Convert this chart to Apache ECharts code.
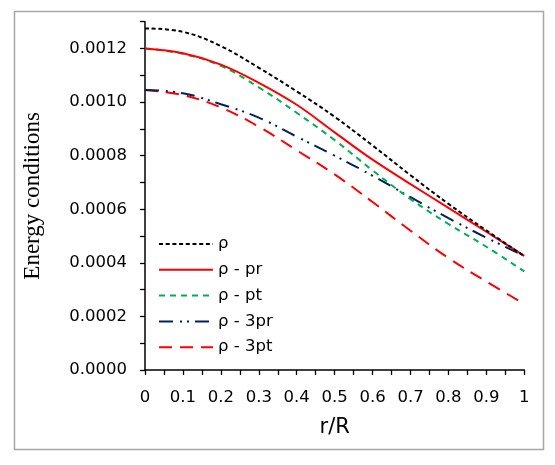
<!DOCTYPE html>
<html>
<head>
<meta charset="utf-8">
<script src="https://cdn.jsdelivr.net/npm/echarts@6/dist/echarts.min.js"></script>
<style>html,body{margin:0;padding:0;background:#fff}#c{width:555px;height:465px}</style>
</head>
<body>
<div id="c"></div>
<script>
// r/R positions
const rR = [0, 0.1, 0.2, 0.3, 0.4, 0.5, 0.6, 0.7, 0.8, 0.9, 1];
// series values
const rho      = [0.001275, 0.001262, 0.001209, 0.001128, 0.001040, 0.000945, 0.000838, 0.000727, 0.000620, 0.000521, 0.000425];
const rhoPr    = [0.001200, 0.001182, 0.001140, 0.001072, 0.000990, 0.000887, 0.000785, 0.000694, 0.000605, 0.000516, 0.000426];
const rhoPt    = [0.001200, 0.001180, 0.001135, 0.001055, 0.000960, 0.000858, 0.000745, 0.000638, 0.000545, 0.000460, 0.000368];
const rho3Pr   = [0.001045, 0.001033, 0.000992, 0.000942, 0.000871, 0.000800, 0.000725, 0.000645, 0.000567, 0.000494, 0.000426];
const rho3Pt   = [0.001045, 0.001026, 0.000980, 0.000908, 0.000820, 0.000730, 0.000627, 0.000520, 0.000418, 0.000330, 0.000247];
const seriesNames = ['ρ', 'ρ - pr', 'ρ - pt', 'ρ - 3pr', 'ρ - 3pt'];
const xTicks = ['0', '0.1', '0.2', '0.3', '0.4', '0.5', '0.6', '0.7', '0.8', '0.9', '1'];
const yTicks = ['0.0000', '0.0002', '0.0004', '0.0006', '0.0008', '0.0010', '0.0012'];

const pairs = arr => rR.map((x, i) => [x, arr[i]]);
const styles = [
  {color: '#000000', type: [4, 2.7]},
  {color: '#ff0000', type: 'solid'},
  {color: '#00b050', type: [6, 5]},
  {color: '#002060', type: [14, 7, 2, 5, 2, 6]},
  {color: '#ff0000', type: [13, 8]}
];
const values = [rho, rhoPr, rhoPt, rho3Pr, rho3Pt];

const chart = echarts.init(document.getElementById('c'), null, {renderer: 'canvas'});
const FONT = 'DejaVu Sans';
chart.setOption({
  animation: false,
  backgroundColor: '#ffffff',
  graphic: [{
    type: 'rect', left: 12, top: 9, z: -1,
    shape: {width: 529, height: 438},
    style: {fill: 'none', stroke: '#a6a6a6', lineWidth: 1.5}
  }],
  grid: {left: 145, right: 30.7, top: 21.7, bottom: 95},
  legend: {
    left: 158, top: 235.5, orient: 'vertical', padding: 0,
    itemWidth: 54, itemHeight: 17, itemGap: 8.8,
    data: seriesNames,
    itemStyle: {opacity: 0},
    textStyle: {fontFamily: FONT, fontSize: 16.5, color: '#000'}
  },
  xAxis: {
    type: 'value', min: 0, max: 1, interval: 0.05,
    name: 'r/R', nameLocation: 'middle', nameGap: 47,
    nameTextStyle: {fontFamily: FONT, fontSize: 21, color: '#000'},
    axisLine: {lineStyle: {color: '#000', width: 1.5}},
    axisTick: {inside: false, length: 5, lineStyle: {color: '#000', width: 1.3}},
    splitLine: {show: false},
    axisLabel: {
      fontFamily: FONT, fontSize: 16.5, color: '#000', margin: 19,
      formatter: v => { const k = Math.round(v * 20); return k % 2 === 0 ? xTicks[k / 2] : ''; }
    }
  },
  yAxis: {
    type: 'value', min: 0, max: 0.0013, interval: 0.0001,
    name: 'Energy conditions', nameLocation: 'middle', nameGap: 101, nameRotate: 90,
    nameTextStyle: {fontFamily: 'Liberation Serif', fontSize: 23, color: '#000'},
    axisLine: {show: true, lineStyle: {color: '#000', width: 1.5}},
    axisTick: {show: true, inside: false, length: 5, lineStyle: {color: '#000', width: 1.3}},
    splitLine: {show: false},
    axisLabel: {
      fontFamily: FONT, fontSize: 16.5, color: '#000', margin: 18,
      formatter: v => { const k = Math.round(v * 10000); return k % 2 === 0 ? yTicks[k / 2] : ''; }
    }
  },
  series: values.map((arr, i) => ({
    name: seriesNames[i], type: 'line', smooth: 0.4, symbol: 'none',
    data: pairs(arr),
    lineStyle: {color: styles[i].color, type: styles[i].type, width: 2},
    itemStyle: {color: styles[i].color},
    z: 10 - i
  }))
});
</script>
</body>
</html>
